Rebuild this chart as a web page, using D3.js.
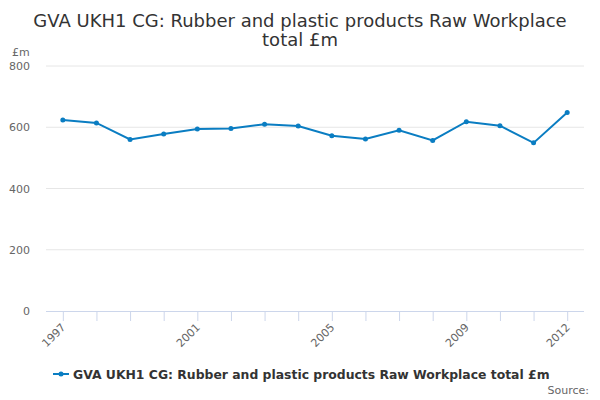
<!DOCTYPE html>
<html>
<head>
<meta charset="utf-8">
<script src="https://cdn.jsdelivr.net/npm/d3@7"></script>
<style>
  body { margin: 0; background: #fff; }
  svg { font-family: "DejaVu Sans", sans-serif; }
</style>
</head>
<body>
<svg id="chart" width="600" height="400"></svg>
<script>
// data
const years = ["1997", "1998", "1999", "2000", "2001", "2002", "2003", "2004",
               "2005", "2006", "2007", "2008", "2009", "2010", "2011", "2012"];
const values = [624, 614, 560, 578, 594, 596, 610, 604,
                572, 562, 590, 557, 618, 605, 549, 648];
const yTicks = [0, 200, 400, 600, 800];
const xLabels = ["1997", "2001", "2005", "2009", "2012"];
const seriesName = "GVA UKH1 CG: Rubber and plastic products Raw Workplace total £m";

const svg = d3.select("#chart");
let margin = { top: 66, right: 16, bottom: 89, left: 46 };
let width = 600 - margin.left - margin.right;
let height = 400 - margin.top - margin.bottom;
const lineColor = "#0a7dc2";

// title
const title = svg.append("text")
    .attr("text-anchor", "middle")
    .attr("fill", "#333")
    .attr("font-size", "18px");
title.append("tspan").attr("x", 300).attr("y", 27)
    .text("GVA UKH1 CG: Rubber and plastic products Raw Workplace");
title.append("tspan").attr("x", 300).attr("y", 46).text("total £m");

let g = svg.append("g")
    .attr("transform", "translate(" + margin.left + "," + margin.top + ")");

let x = d3.scalePoint().domain(years).range([0, width]).padding(0.5);
let y = d3.scaleLinear().domain([0, 800]).range([height, 0]);

// gridlines
g.selectAll(".grid")
    .data(yTicks.filter(d => d > 0))
    .enter().append("line")
    .attr("x1", 0).attr("x2", width)
    .attr("y1", d => y(d)).attr("y2", d => y(d))
    .attr("stroke", "#e6e6e6").attr("stroke-width", 1);

// y axis labels
let yAxis = g.append("g")
    .call(d3.axisLeft(y).tickValues(yTicks).tickSize(0).tickPadding(16));
yAxis.select(".domain").remove();
yAxis.selectAll("text")
    .attr("fill", "#666").attr("font-size", "11px")
    .attr("font-family", "DejaVu Sans, sans-serif");

svg.append("text")
    .attr("x", 12).attr("y", 56)
    .attr("fill", "#666").attr("font-size", "11px")
    .text("£m");

// x axis
let xAxis = g.append("g")
    .attr("transform", "translate(0," + height + ")")
    .call(d3.axisBottom(x).tickSize(10).tickSizeOuter(0)
        .tickFormat(d => xLabels.includes(d) ? d : ""));
xAxis.select(".domain")
    .attr("d", "M0,0.5H" + width)
    .attr("stroke", "#ccd6eb");
xAxis.selectAll(".tick line").attr("stroke", "#ccd6eb");
xAxis.selectAll("text")
    .attr("fill", "#666").attr("font-size", "11px")
    .attr("font-family", "DejaVu Sans, sans-serif")
    .attr("text-anchor", "end")
    .attr("dy", null)
    .attr("x", 0).attr("y", 0)
    .attr("transform", "translate(3,17) rotate(-45)");

// line
let line = d3.line()
    .x((d, i) => x(years[i]))
    .y(d => y(d));

g.append("path")
    .datum(values)
    .attr("fill", "none")
    .attr("stroke", lineColor)
    .attr("stroke-width", 2)
    .attr("d", line);

g.selectAll(".dot")
    .data(values)
    .enter().append("circle")
    .attr("cx", (d, i) => x(years[i]))
    .attr("cy", d => y(d))
    .attr("r", 2.5)
    .attr("fill", lineColor);

// legend
let legend = svg.append("g").attr("transform", "translate(53,374)");
legend.append("line")
    .attr("x1", 0).attr("x2", 16)
    .attr("stroke", lineColor).attr("stroke-width", 2);
legend.append("circle").attr("cx", 8).attr("r", 2.5).attr("fill", lineColor);
legend.append("text")
    .attr("x", 20).attr("y", 4.5)
    .attr("font-size", "12.4px").attr("font-weight", "bold")
    .attr("fill", "#333")
    .text(seriesName);

svg.append("text")
    .attr("x", 589).attr("y", 394)
    .attr("text-anchor", "end")
    .attr("fill", "#666").attr("font-size", "11px")
    .text("Source:");
</script>
</body>
</html>
